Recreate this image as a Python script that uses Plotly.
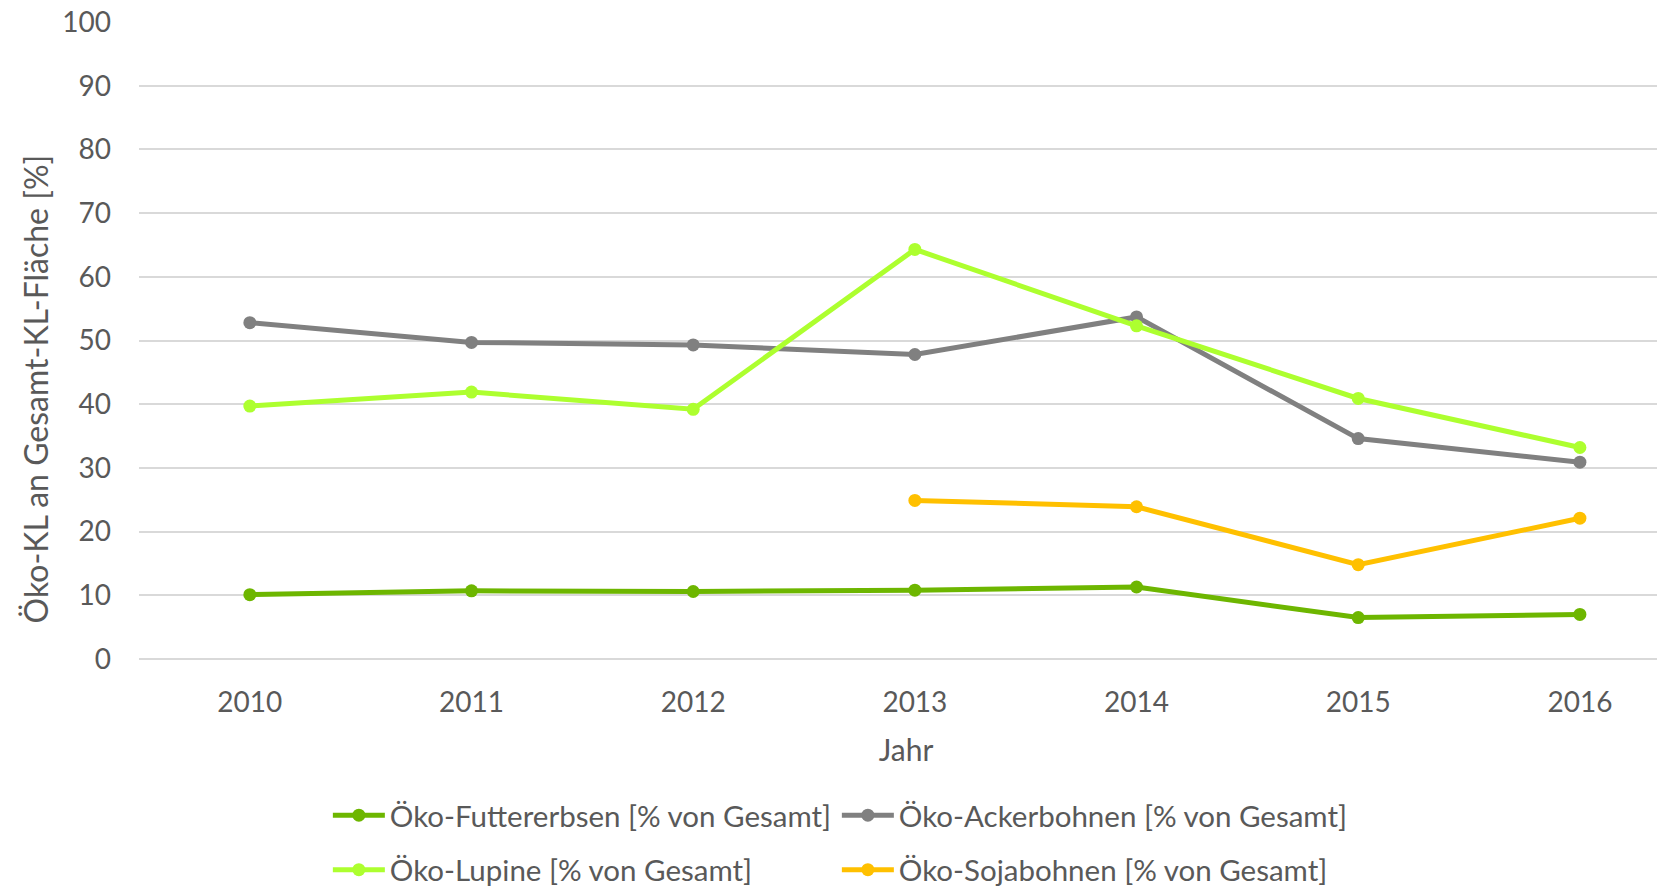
import plotly.graph_objects as go

years = ["2010", "2011", "2012", "2013", "2014", "2015", "2016"]
futtererbsen = [10.1, 10.7, 10.6, 10.8, 11.3, 6.5, 7.0]
ackerbohnen = [52.8, 49.7, 49.3, 47.8, 53.7, 34.6, 30.9]
lupine = [39.7, 41.9, 39.2, 64.3, 52.3, 40.9, 33.2]
sojabohnen = [None, None, None, 24.9, 23.9, 14.8, 22.1]

names = ["Öko-Futtererbsen [% von Gesamt]", "Öko-Ackerbohnen [% von Gesamt]",
         "Öko-Lupine [% von Gesamt]", "Öko-Sojabohnen [% von Gesamt]"]
colors = ["#6DB600", "#808080", "#ADFF2F", "#FFC000"]
series = [futtererbsen, ackerbohnen, lupine, sojabohnen]
legends = ["legend", "legend", "legend2", "legend2"]
y_title = "Öko-KL an Gesamt-KL-Fläche [%]"

FONT = "Lato, Carlito, Open Sans, sans-serif"
TXT = "#595959"

fig = go.Figure()
for n, c, s, lg in zip(names, colors, series, legends):
    fig.add_trace(go.Scatter(
        x=years, y=s, name=n, mode="lines+markers",
        line=dict(color=c, width=5), marker=dict(color=c, size=13),
        legend=lg, connectgaps=False,
    ))

leg_common = dict(orientation="h", xanchor="left", yanchor="middle",
                  font=dict(family=FONT, size=29.5, color=TXT),
                  entrywidth=442, entrywidthmode="pixels",
                  bgcolor="rgba(0,0,0,0)", itemwidth=52, tracegroupgap=0)

fig.update_layout(
    width=1665, height=888,
    paper_bgcolor="white", plot_bgcolor="white",
    margin=dict(l=131, r=0, t=14, b=222),
    font=dict(family=FONT, color=TXT, size=28),
    showlegend=True,
    legend=dict(x=(326 - 138) / 1527, y=-157 / 639, **leg_common),
    legend2=dict(x=(326 - 138) / 1527, y=-212 / 639, **leg_common),
    xaxis=dict(
        type="category", range=[-0.5, 6.42],
        showgrid=False, zeroline=False, automargin=False,
        showline=False, ticks="",
        ticklabelstandoff=24,
        tickfont=dict(family=FONT, size=28, color=TXT),
        title=dict(text="Jahr", font=dict(family=FONT, size=30, color=TXT), standoff=22),
    ),
    yaxis=dict(
        range=[0, 100], dtick=10, automargin=False,
        showgrid=True, gridcolor="#D9D9D9", gridwidth=1.5,
        zeroline=True, zerolinecolor="#D9D9D9", zerolinewidth=2,
        showline=False, ticks="", ticklabeloverflow="allow",
        ticklabelstandoff=27,
        tickfont=dict(family=FONT, size=28, color=TXT),
    ),
)

fig.add_annotation(
    text=y_title, textangle=-90, showarrow=False,
    xref="paper", yref="paper",
    x=-(138 - 35) / 1527, y=(660 - 389) / 639,
    xanchor="center", yanchor="middle",
    font=dict(family=FONT, size=32, color=TXT),
)

fig.write_html("out.html")
